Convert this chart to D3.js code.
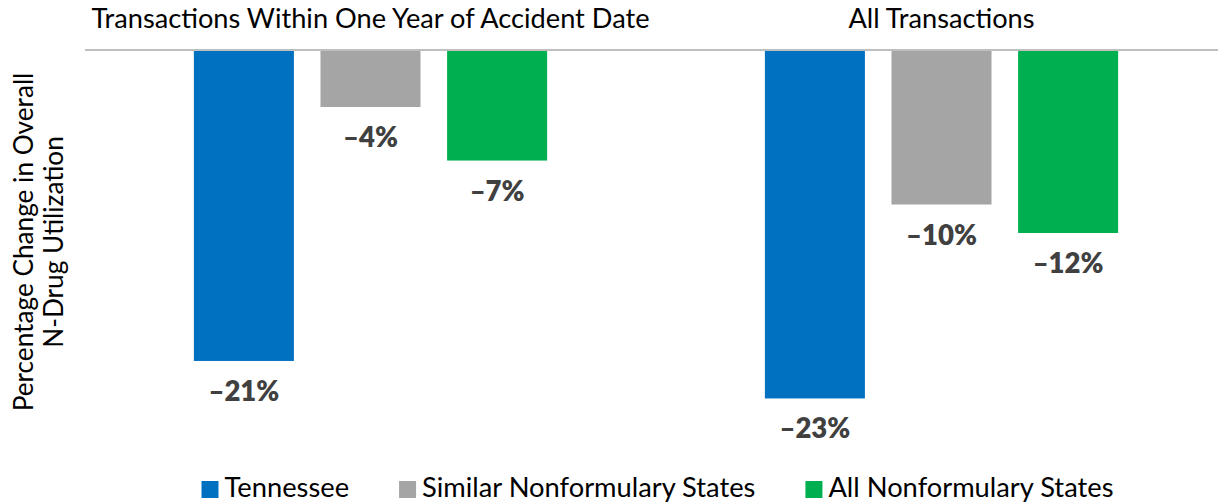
<!DOCTYPE html>
<html>
<head>
<meta charset="utf-8">
<script src="https://cdn.jsdelivr.net/npm/d3@7"></script>
<style>
  html, body { margin: 0; padding: 0; background: #ffffff; }
  svg { display: block; }
  text { font-family: Lato, "Open Sans", sans-serif; }
</style>
</head>
<body>
<svg id="chart" width="1218" height="503"></svg>
<script>
// ---- data ----
const groups = ["Transactions Within One Year of Accident Date", "All Transactions"];
const seriesNames = ["Tennessee", "Similar Nonformulary States", "All Nonformulary States"];
const tennessee = [-20.73, -23.23];
const similarStates = [-3.8, -10.3];
const allStates = [-7.37, -12.2];
const yAxisTitle = ["Percentage Change in Overall", "N-Drug Utilization"];
const colors = ["#0070C0", "#A5A5A5", "#00B050"];

const seriesValues = [tennessee, similarStates, allStates];
const rows = groups.map((g, gi) => ({
  group: g,
  values: seriesNames.map((s, si) => ({ series: s, value: seriesValues[si][gi] }))
}));

const svg = d3.select("#chart");

const x0 = d3.scaleBand().domain(groups).range([85, 1227]).padding(0);
const x1 = d3.scaleBand().domain(seriesNames).range([0, x0.bandwidth()])
  .paddingInner(0.21).paddingOuter(0.86);
const y = d3.scaleLinear().domain([-25, 0]).range([425, 50]);
const color = d3.scaleOrdinal().domain(seriesNames).range(colors);

// group titles
svg.append("g").selectAll("text").data(groups).join("text")
  .attr("x", d => x0(d) + x0.bandwidth() / 2)
  .attr("y", 28)
  .attr("text-anchor", "middle")
  .attr("font-size", 27.2)
  .attr("fill", "#000000")
  .text(d => d);

// bars
const g = svg.append("g").selectAll("g").data(rows).join("g")
  .attr("transform", d => `translate(${x0(d.group)},0)`);

g.selectAll("rect").data(d => d.values).join("rect")
  .attr("x", d => x1(d.series))
  .attr("width", x1.bandwidth())
  .attr("y", y(0))
  .attr("height", d => y(d.value) - y(0))
  .attr("fill", d => color(d.series));

const fmt = v => "\u2013" + Math.round(Math.abs(v)) + "%";
g.selectAll("text").data(d => d.values).join("text")
  .attr("x", d => x1(d.series) + x1.bandwidth() / 2)
  .attr("y", d => y(d.value) + 40)
  .attr("text-anchor", "middle")
  .attr("font-size", 27.5)
  .attr("font-weight", 800)
  .attr("fill", "#404040")
  .text(d => fmt(d.value));

// zero baseline
svg.append("line")
  .attr("x1", 85).attr("x2", 1227)
  .attr("y1", y(0)).attr("y2", y(0))
  .attr("stroke", "#BFBFBF").attr("stroke-width", 2);

// y axis title
const yt = svg.append("text")
  .attr("transform", "translate(0,242) rotate(-90)")
  .attr("text-anchor", "middle")
  .attr("font-size", 26.2)
  .attr("fill", "#000000");
yt.selectAll("tspan").data(yAxisTitle).join("tspan")
  .attr("x", 0)
  .attr("y", (d, i) => 33 + i * 30)
  .text(d => d);

// legend
const legend = svg.append("g");
const items = legend.selectAll("g").data(seriesNames).join("g");
items.append("rect")
  .attr("width", 17).attr("height", 17)
  .attr("y", 481)
  .attr("fill", d => color(d));
items.append("text")
  .attr("x", 23)
  .attr("y", 497)
  .attr("font-size", 27.3)
  .attr("fill", "#000000")
  .text(d => d);
const widths = [];
items.each(function () {
  widths.push(23 + this.querySelector("text").getComputedTextLength());
});
const total = d3.sum(widths) + 50 * (widths.length - 1);
let cx = 657.5 - total / 2;
items.attr("transform", (d, i) => {
  const t = `translate(${cx},0)`;
  cx += widths[i] + 50;
  return t;
});
</script>
</body>
</html>
